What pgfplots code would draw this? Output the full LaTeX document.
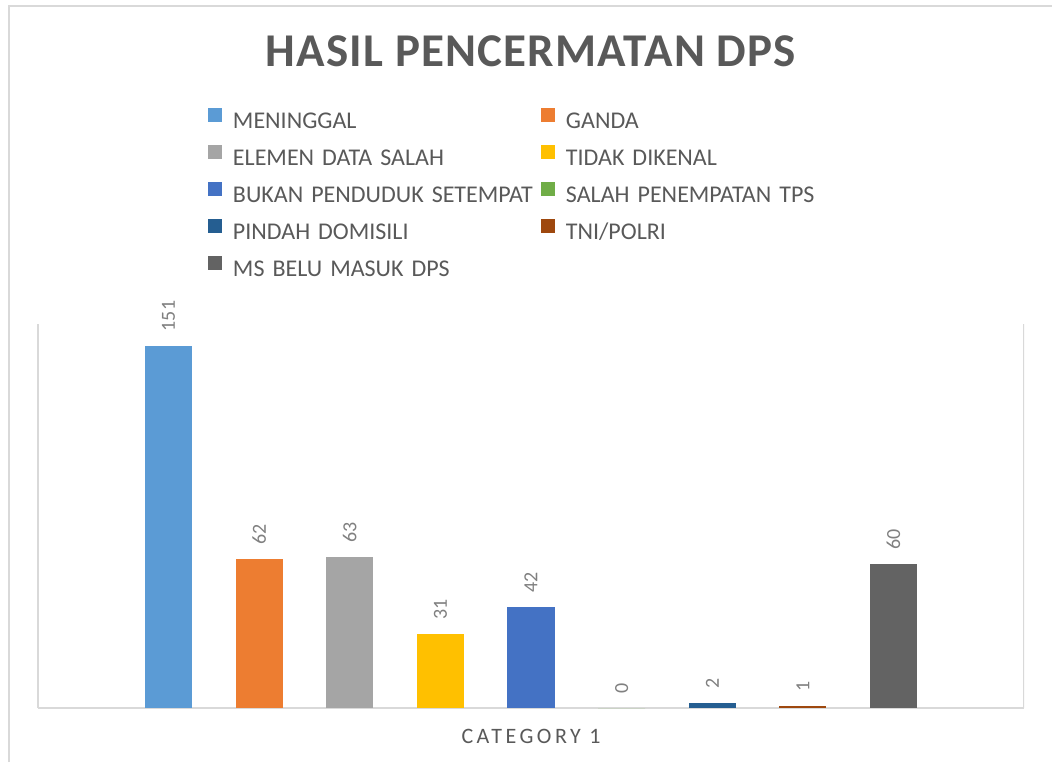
\documentclass[border=0pt]{standalone}
\usepackage{fontspec}
\setmainfont{Carlito}
\newfontfamily\spaced[LetterSpace=16]{Carlito}
\newfontfamily\titlefont[LetterSpace=2.5]{Carlito}
\usepackage{pgfplots}
\pgfplotsset{compat=1.18}
\definecolor{c1}{HTML}{5B9BD5}
\definecolor{c2}{HTML}{ED7D31}
\definecolor{c3}{HTML}{A5A5A5}
\definecolor{c4}{HTML}{FFC000}
\definecolor{c5}{HTML}{4472C4}
\definecolor{c6}{HTML}{70AD47}
\definecolor{c7}{HTML}{255E91}
\definecolor{c8}{HTML}{9E480E}
\definecolor{c9}{HTML}{636363}
\definecolor{txt}{HTML}{595959}
\definecolor{lab}{HTML}{808080}
\definecolor{grid}{HTML}{D9D9D9}
\begin{document}
\begin{tikzpicture}
\begin{axis}[
  at={(0,0)}, anchor=south west,
  scale only axis, width=493pt, height=192pt,
  ybar, bar width=0.52,
  xmin=-1.44, xmax=9.44, ymin=0, ymax=160,
  axis x line*=bottom, axis y line*=left,
  axis line style={draw=grid, line width=0.8pt},
  xtick=\empty, ytick=\empty,
  /pgf/number format/assume math mode=true,
  nodes near coords,
  nodes near coords style={rotate=90, anchor=west, inner xsep=7pt, inner ysep=0pt,
    font=\fontsize{10}{12}\selectfont, text=lab},
  legend columns=2,
  legend image code/.code={\fill[#1] (0pt,0pt) rectangle (7pt,7pt);},
  legend style={at={(axis description cs:0.1724,1.5625)}, anchor=north west,
    draw=none, fill=none, inner sep=0pt, outer sep=0pt,
    font=\fontsize{12}{14}\selectfont, text=txt,
    nodes={inner sep=0pt, text height=8pt, text depth=2pt, text width=150pt, align=left},
    row sep=6.5pt,
    /tikz/every odd column/.style={column sep=5.5pt},
    /tikz/every even column/.style={column sep=4pt}},
]
\addplot[fill=c1, draw=none, bar shift=0pt] coordinates {(0,151)};
\addplot[fill=c2, draw=none, bar shift=0pt] coordinates {(1,62)};
\addplot[fill=c3, draw=none, bar shift=0pt] coordinates {(2,63)};
\addplot[fill=c4, draw=none, bar shift=0pt] coordinates {(3,31)};
\addplot[fill=c5, draw=none, bar shift=0pt] coordinates {(4,42)};
\addplot[fill=c6, draw=none, bar shift=0pt] coordinates {(5,0)};
\addplot[fill=c7, draw=none, bar shift=0pt] coordinates {(6,2)};
\addplot[fill=c8, draw=none, bar shift=0pt] coordinates {(7,1)};
\addplot[fill=c9, draw=none, bar shift=0pt] coordinates {(8,60)};
\legend{MENINGGAL, GANDA, ELEMEN DATA SALAH, TIDAK DIKENAL, BUKAN PENDUDUK SETEMPAT, SALAH PENEMPATAN TPS, PINDAH DOMISILI, TNI/POLRI, MS BELU MASUK DPS}
\draw[grid, line width=0.8pt] (rel axis cs:1,0) -- (rel axis cs:1,1);
\end{axis}
\node[anchor=base, text=txt, font=\titlefont\bfseries\fontsize{23.5}{28}\selectfont, inner sep=0pt] at (246.5pt,320.5pt) {HASIL PENCERMATAN DPS};
\node[anchor=base, text=txt, font=\spaced\fontsize{11}{13}\selectfont, inner sep=0pt] at (246.5pt,-17.5pt) {CATEGORY 1};
\draw[grid, line width=0.8pt] (-14.5pt,-27pt) -- (-14.5pt,351pt) -- (507pt,351pt);
\pgfresetboundingbox
\path (-19pt,-27pt) rectangle (507pt,354pt);
\end{tikzpicture}
\end{document}
